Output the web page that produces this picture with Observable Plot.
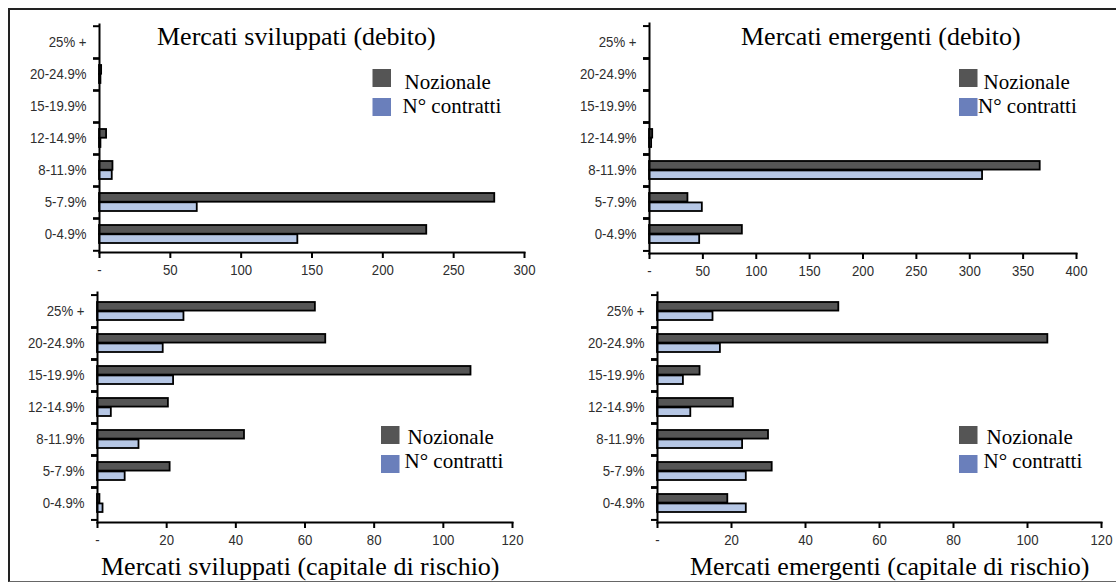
<!DOCTYPE html>
<html>
<head>
<meta charset="utf-8">
<script src="https://cdn.jsdelivr.net/npm/d3@7"></script>
<script src="https://cdn.jsdelivr.net/npm/@observablehq/plot@0.6"></script>
<style>
  html, body { margin: 0; padding: 0; background: #fff; }
  #chart { position: relative; width: 1116px; height: 583px; overflow: hidden; background: #fff; }
  #border { position: absolute; left: 8px; top: 8px; width: 1120px; height: 571px;
            border-left: 2px solid #222; border-top: 2px solid #222; border-bottom: 1px solid #666; }
  #chart svg g[aria-label$="tick label"] { fill: #2e2e2e; }
</style>
</head>
<body>
<div id="chart"><div id="border"></div></div>
<script>
// Fasce di rendimento (dall'alto verso il basso)
const categories = ["25% +", "20-24.9%", "15-19.9%", "12-14.9%", "8-11.9%", "5-7.9%", "0-4.9%"];
const series = ["Nozionale", "N° contratti"];

// Mercati sviluppati (debito)
const svDebitoNozionale = [0, 1.5, 0, 5, 9.5, 279, 231];
const svDebitoContratti = [0, 1, 0, 1, 9, 69, 140];
// Mercati emergenti (debito)
const emDebitoNozionale = [0, 0, 0, 3, 366, 36, 87];
const emDebitoContratti = [0, 0, 0, 2, 312, 49.5, 47];
// Mercati sviluppati (capitale di rischio)
const svCapitaleNozionale = [63, 66, 108, 20.5, 42.5, 21, 0.7];
const svCapitaleContratti = [25, 19, 22, 4, 12, 8, 1.6];
// Mercati emergenti (capitale di rischio)
const emCapitaleNozionale = [49, 105.5, 11.5, 20.5, 30, 31, 19];
const emCapitaleContratti = [15, 17, 7, 9, 23, 24, 24];

// Assi x
const ticksDebitoSv = [0, 50, 100, 150, 200, 250, 300];
const ticksDebitoEm = [0, 50, 100, 150, 200, 250, 300, 350, 400];
const ticksCapitale = [0, 20, 40, 60, 80, 100, 120];

const barColors = ["#555555", "#b6c7e5"];
const legendColors = ["#555555", "#6a7fbb"];

const chart = document.getElementById("chart");

// Etichette degli assi in stile "narrow": compressione orizzontale del testo
function condense(svg, factor) {
  svg.querySelectorAll('g[aria-label$="tick label"] text').forEach(t => {
    const w = t.getComputedTextLength();
    if (w > 0) {
      t.setAttribute("textLength", (w * factor).toFixed(2));
      t.setAttribute("lengthAdjust", "spacingAndGlyphs");
    }
  });
}

function panel({nozionale, contratti, ticks, left, top, width, height, margin}) {
  const rows = categories.flatMap((c, i) => [
    {cat: c, serie: series[0], v: nozionale[i]},
    {cat: c, serie: series[1], v: contratti[i]}
  ]).filter(d => d.v > 0);
  const [mt, mr, mb, ml] = margin;
  const band = (height - mt - mb) / categories.length;
  const inset = 7;
  const svg = Plot.plot({
    width, height,
    marginTop: mt, marginRight: mr, marginBottom: mb, marginLeft: ml,
    style: {position: "absolute", left: left + "px", top: top + "px", overflow: "visible",
            background: "transparent", color: "#000",
            fontFamily: "'Liberation Sans', Arial, sans-serif", fontSize: "15px"},
    x: {domain: [ticks[0], ticks[ticks.length - 1]]},
    y: {domain: categories, padding: 0},
    color: {domain: series, range: barColors},
    marks: [
      Plot.barX(rows.filter(d => d.serie === series[0]), {
        x: "v", y: "cat", fill: "serie", stroke: "#000", strokeWidth: 1.8,
        insetTop: inset, insetBottom: band / 2
      }),
      Plot.barX(rows.filter(d => d.serie === series[1]), {
        x: "v", y: "cat", fill: "serie", stroke: "#000", strokeWidth: 1.8,
        insetTop: band / 2, insetBottom: inset
      }),
      Plot.axisX({ticks, tickSize: 6, tickPadding: 6, strokeWidth: 2, label: null,
                  tickFormat: d => d === 0 ? "-" : d}),
      Plot.axisY({tickSize: 0, tickPadding: 13, label: null}),
      Plot.axisY({tickSize: 6, strokeWidth: 2, tickFormat: () => "", label: null, dy: -band / 2}),
      Plot.axisY({tickSize: 6, strokeWidth: 2, tickFormat: () => "", label: null, dy: band / 2}),
      Plot.frame({anchor: "left", strokeWidth: 2}),
      Plot.frame({anchor: "bottom", strokeWidth: 2})
    ]
  });
  chart.appendChild(svg);
  condense(svg, 0.88);
}

panel({nozionale: svDebitoNozionale, contratti: svDebitoContratti, ticks: ticksDebitoSv,
       left: 0, top: 0, width: 560, height: 285, margin: [24, 36, 33, 99]});
panel({nozionale: emDebitoNozionale, contratti: emDebitoContratti, ticks: ticksDebitoEm,
       left: 556, top: 0, width: 560, height: 285, margin: [23, 40, 32, 93]});
panel({nozionale: svCapitaleNozionale, contratti: svCapitaleContratti, ticks: ticksCapitale,
       left: 0, top: 285, width: 560, height: 298, margin: [7, 48, 61, 97]});
panel({nozionale: emCapitaleNozionale, contratti: emCapitaleContratti, ticks: ticksCapitale,
       left: 556, top: 285, width: 560, height: 298, margin: [7, 15, 61, 101]});

// Titoli e legende
const overlay = d3.select(chart).append("svg")
  .attr("width", 1116).attr("height", 583)
  .style("position", "absolute").style("left", 0).style("top", 0)
  .style("pointer-events", "none")
  .style("font-family", "'Liberation Serif', 'Times New Roman', serif");

const titles = [
  {text: "Mercati sviluppati (debito)", x: 157, y: 45},
  {text: "Mercati emergenti (debito)", x: 741, y: 45},
  {text: "Mercati sviluppati (capitale di rischio)", x: 101, y: 575},
  {text: "Mercati emergenti (capitale di rischio)", x: 690, y: 575}
];
overlay.selectAll("text.title").data(titles).join("text")
  .attr("class", "title")
  .attr("x", d => d.x).attr("y", d => d.y)
  .attr("font-size", 26).attr("fill", "#000")
  .text(d => d.text);

const legends = [
  {sx: 372.5, sy: 69, tx: [404.5, 402.5], ty: 89},
  {sx: 959, sy: 69, tx: [983.5, 978], ty: 89},
  {sx: 381, sy: 426, tx: [407.5, 404.5], ty: 444.3},
  {sx: 959, sy: 426, tx: [986.5, 983.5], ty: 444.3}
];
for (const L of legends) {
  const g = overlay.append("g");
  series.forEach((s, i) => {
    g.append("rect").attr("x", L.sx).attr("y", L.sy + i * 29)
      .attr("width", 18.5).attr("height", 18).attr("fill", legendColors[i]);
    g.append("text").attr("x", L.tx[i]).attr("y", L.ty + i * 24)
      .attr("font-size", 21).attr("fill", "#000").text(s);
  });
}
</script>
</body>
</html>
